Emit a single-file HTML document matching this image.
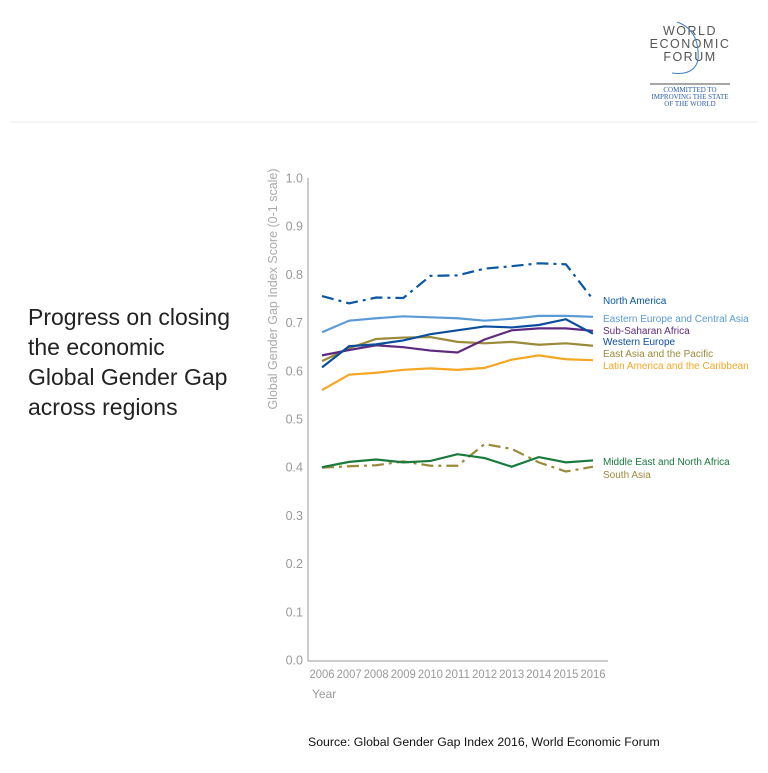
<!DOCTYPE html>
<html><head><meta charset="utf-8"><style>
body{margin:0;background:#fff;width:768px;height:768px;overflow:hidden;font-family:"Liberation Sans",sans-serif}
</style></head><body>
<svg id="s" width="768" height="768" xmlns="http://www.w3.org/2000/svg" font-family="Liberation Sans, sans-serif">
<rect width="768" height="768" fill="#fff"/>
<line x1="10" y1="122" x2="758" y2="122" stroke="#eee"/>
<g font-size="12.5" fill="#555" text-anchor="middle" letter-spacing="1.5">
<text x="690" y="35">WORLD</text><text x="690" y="48">ECONOMIC</text><text x="690" y="61">FORUM</text>
</g>
<path d="M677 22 Q700 30 698 60 Q694 76 672 73" fill="none" stroke="#3a7fc4" stroke-width="1"/>
<line x1="650" y1="84" x2="730" y2="84" stroke="#888" stroke-width="1.5"/>
<g font-size="7" fill="#2a5ea8" text-anchor="middle" font-family="Liberation Serif, serif">
<text x="690" y="92">COMMITTED TO</text><text x="690" y="99">IMPROVING THE STATE</text><text x="690" y="106">OF THE WORLD</text>
</g>
<g font-size="23" fill="#222">
<text x="28" y="325">Progress on closing</text><text x="28" y="355">the economic</text>
<text x="28" y="385">Global Gender Gap</text><text x="28" y="415">across regions</text>
</g>
<text transform="translate(277,289) rotate(-90)" text-anchor="middle" font-size="12.5" fill="#aaa">Global Gender Gap Index Score (0-1 scale)</text>
<line x1="308" y1="178" x2="308" y2="661" stroke="#999"/>
<line x1="308" y1="661" x2="608" y2="661" stroke="#999"/>
<g id="ax" font-size="12.5" fill="#999"></g>
<text x="312" y="698" font-size="12" fill="#999">Year</text>
<g id="lines" fill="none" stroke-width="2.2"></g>
<g font-size="10" id="lab"></g>
<text x="308" y="746" font-size="12.3" fill="#111">Source:  Global Gender Gap Index 2016, World Economic Forum</text>
</svg>
<script>
var ns="http://www.w3.org/2000/svg";
function el(t,a,p,txt){var e=document.createElementNS(ns,t);for(var k in a)e.setAttribute(k,a[k]);if(txt)e.textContent=txt;p.appendChild(e);return e;}
function Y(v){return 660-482*v}function X(i){return 322+27.1*i}
var ax=document.getElementById('ax');
for(var i=0;i<=10;i++){var v=i/10;el('text',{x:303,y:Y(v)+4.5,'text-anchor':'end'},ax,v.toFixed(1));}
for(var i=0;i<11;i++)el('text',{x:X(i),y:678,'text-anchor':'middle','font-size':'12','textLength':'25','lengthAdjust':'spacingAndGlyphs'},ax,String(2006+i));
var S=[
["#0b57a4",[.755,.740,.752,.751,.797,.798,.812,.817,.823,.821,.748],"12 5 3 5","North America",301],
["#5b9bd5",[.680,.704,.709,.713,.711,.709,.704,.708,.714,.714,.712],"","Eastern Europe and Central Asia",319],
["#9a8a3a",[.620,.647,.666,.669,.670,.660,.657,.660,.654,.657,.652],"","East Asia and the Pacific",354],
["#5e2a7e",[.632,.643,.653,.649,.642,.638,.665,.684,.688,.688,.683],"","Sub-Saharan Africa",331],
["#0b4e9c",[.607,.651,.655,.663,.676,.684,.692,.690,.695,.707,.677],"","Western Europe",342],
["#f5a623",[.560,.592,.596,.602,.605,.602,.606,.623,.632,.624,.622],"","Latin America and the Caribbean",366],
["#9a8a3a",[.399,.402,.404,.412,.403,.403,.448,.438,.410,.391,.401],"12 5 3 5","South Asia",475],
["#1a7a3e",[.400,.411,.416,.410,.413,.427,.419,.401,.421,.410,.414],"","Middle East and North Africa",462]];
var g=document.getElementById('lines'),lb=document.getElementById('lab');
S.forEach(function(s){var p=s[1].map(function(v,i){return X(i)+","+Y(v)}).join(" ");
var a={points:p,stroke:s[0]};if(s[2])a['stroke-dasharray']=s[2];el('polyline',a,g);
el('text',{x:603,y:s[4]+3,fill:s[0]},lb,s[3]);});
</script>
</body></html>
